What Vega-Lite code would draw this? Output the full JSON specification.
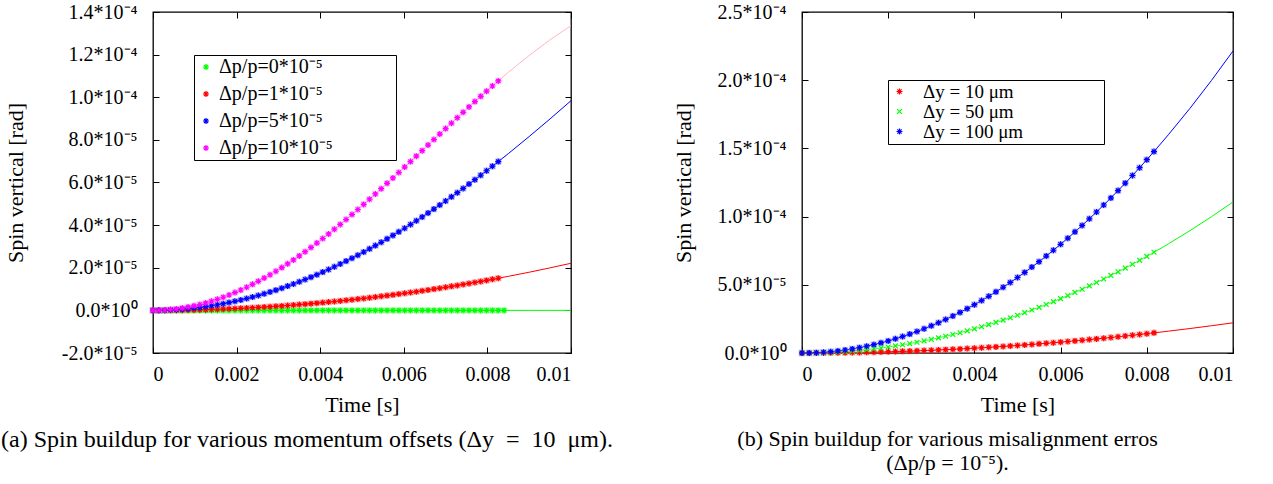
{
"$schema":"https://vega.github.io/schema/vega-lite/v6.json",
"background":"white",
"padding":{"left":0,"top":1,"right":5,"bottom":5},
"bounds":"flush",
"spacing":231,
"config":{
 "view":{"stroke":"black","strokeWidth":1.3},
 "axis":{"grid":false,"domain":false,"tickColor":"black","tickSize":-6,"tickWidth":1,"labelFont":"Liberation Serif","labelFontSize":20,"labelColor":"black","titleFont":"Liberation Serif","titleFontSize":22,"titleFontWeight":"normal","titleColor":"black"},
 "title":{"font":"Liberation Serif","fontSize":22,"fontWeight":"normal","color":"black"}
},
"datasets":{
"left":[
{"s":"0","t":0,"v":0,"p":1},{"s":"0","t":0.00014,"v":0,"p":1},{"s":"0","t":0.00028,"v":0,"p":1},{"s":"0","t":0.00042,"v":0,"p":1},{"s":"0","t":0.00056,"v":0,"p":1},{"s":"0","t":0.0007,"v":0,"p":1},{"s":"0","t":0.00084,"v":0,"p":1},{"s":"0","t":0.00098,"v":0,"p":1},{"s":"0","t":0.00112,"v":0,"p":1},{"s":"0","t":0.00126,"v":0,"p":1},{"s":"0","t":0.0014,"v":0,"p":1},{"s":"0","t":0.00154,"v":0,"p":1},{"s":"0","t":0.00168,"v":0,"p":1},{"s":"0","t":0.00182,"v":0,"p":1},{"s":"0","t":0.00196,"v":0,"p":1},{"s":"0","t":0.0021,"v":0,"p":1},{"s":"0","t":0.00224,"v":0,"p":1},{"s":"0","t":0.00238,"v":0,"p":1},{"s":"0","t":0.00252,"v":0,"p":1},{"s":"0","t":0.00266,"v":0,"p":1},{"s":"0","t":0.0028,"v":0,"p":1},{"s":"0","t":0.00294,"v":0,"p":1},{"s":"0","t":0.00308,"v":0,"p":1},{"s":"0","t":0.00322,"v":0,"p":1},{"s":"0","t":0.00336,"v":0,"p":1},{"s":"0","t":0.0035,"v":0,"p":1},{"s":"0","t":0.00364,"v":0,"p":1},{"s":"0","t":0.00378,"v":0,"p":1},{"s":"0","t":0.00392,"v":0,"p":1},{"s":"0","t":0.00406,"v":0,"p":1},{"s":"0","t":0.0042,"v":0,"p":1},{"s":"0","t":0.00434,"v":0,"p":1},{"s":"0","t":0.00448,"v":0,"p":1},{"s":"0","t":0.00462,"v":0,"p":1},{"s":"0","t":0.00476,"v":0,"p":1},{"s":"0","t":0.0049,"v":0,"p":1},{"s":"0","t":0.00504,"v":0,"p":1},{"s":"0","t":0.00518,"v":0,"p":1},{"s":"0","t":0.00532,"v":0,"p":1},{"s":"0","t":0.00546,"v":0,"p":1},{"s":"0","t":0.0056,"v":0,"p":1},{"s":"0","t":0.00574,"v":0,"p":1},{"s":"0","t":0.00588,"v":0,"p":1},{"s":"0","t":0.00602,"v":0,"p":1},{"s":"0","t":0.00616,"v":0,"p":1},{"s":"0","t":0.0063,"v":0,"p":1},{"s":"0","t":0.00644,"v":0,"p":1},{"s":"0","t":0.00658,"v":0,"p":1},{"s":"0","t":0.00672,"v":0,"p":1},{"s":"0","t":0.00686,"v":0,"p":1},{"s":"0","t":0.007,"v":0,"p":1},{"s":"0","t":0.00714,"v":0,"p":1},{"s":"0","t":0.00728,"v":0,"p":1},{"s":"0","t":0.00742,"v":0,"p":1},{"s":"0","t":0.00756,"v":0,"p":1},{"s":"0","t":0.0077,"v":0,"p":1},{"s":"0","t":0.00784,"v":0,"p":1},{"s":"0","t":0.00798,"v":0,"p":1},{"s":"0","t":0.00812,"v":0,"p":1},{"s":"0","t":0.00826,"v":0,"p":1},{"s":"0","t":0.0084,"v":0,"p":1},{"s":"0","t":0.009,"v":0,"p":0},{"s":"0","t":0.0095,"v":0,"p":0},{"s":"0","t":0.01,"v":0,"p":0},
{"s":"1","t":0,"v":0,"p":1},{"s":"1","t":0.00014,"v":0.0004e-5,"p":1},{"s":"1","t":0.00028,"v":0.002e-5,"p":1},{"s":"1","t":0.00042,"v":0.004e-5,"p":1},{"s":"1","t":0.00056,"v":0.007e-5,"p":1},{"s":"1","t":0.0007,"v":0.011e-5,"p":1},{"s":"1","t":0.00084,"v":0.016e-5,"p":1},{"s":"1","t":0.00098,"v":0.021e-5,"p":1},{"s":"1","t":0.00112,"v":0.028e-5,"p":1},{"s":"1","t":0.00126,"v":0.035e-5,"p":1},{"s":"1","t":0.0014,"v":0.043e-5,"p":1},{"s":"1","t":0.00154,"v":0.052e-5,"p":1},{"s":"1","t":0.00168,"v":0.062e-5,"p":1},{"s":"1","t":0.00182,"v":0.073e-5,"p":1},{"s":"1","t":0.00196,"v":0.085e-5,"p":1},{"s":"1","t":0.0021,"v":0.097e-5,"p":1},{"s":"1","t":0.00224,"v":0.111e-5,"p":1},{"s":"1","t":0.00238,"v":0.125e-5,"p":1},{"s":"1","t":0.00252,"v":0.14e-5,"p":1},{"s":"1","t":0.00266,"v":0.156e-5,"p":1},{"s":"1","t":0.0028,"v":0.173e-5,"p":1},{"s":"1","t":0.00294,"v":0.191e-5,"p":1},{"s":"1","t":0.00308,"v":0.21e-5,"p":1},{"s":"1","t":0.00322,"v":0.229e-5,"p":1},{"s":"1","t":0.00336,"v":0.25e-5,"p":1},{"s":"1","t":0.0035,"v":0.271e-5,"p":1},{"s":"1","t":0.00364,"v":0.293e-5,"p":1},{"s":"1","t":0.00378,"v":0.316e-5,"p":1},{"s":"1","t":0.00392,"v":0.34e-5,"p":1},{"s":"1","t":0.00406,"v":0.364e-5,"p":1},{"s":"1","t":0.0042,"v":0.39e-5,"p":1},{"s":"1","t":0.00434,"v":0.416e-5,"p":1},{"s":"1","t":0.00448,"v":0.444e-5,"p":1},{"s":"1","t":0.00462,"v":0.472e-5,"p":1},{"s":"1","t":0.00476,"v":0.501e-5,"p":1},{"s":"1","t":0.0049,"v":0.531e-5,"p":1},{"s":"1","t":0.00504,"v":0.561e-5,"p":1},{"s":"1","t":0.00518,"v":0.593e-5,"p":1},{"s":"1","t":0.00532,"v":0.625e-5,"p":1},{"s":"1","t":0.00546,"v":0.659e-5,"p":1},{"s":"1","t":0.0056,"v":0.693e-5,"p":1},{"s":"1","t":0.00574,"v":0.728e-5,"p":1},{"s":"1","t":0.00588,"v":0.764e-5,"p":1},{"s":"1","t":0.00602,"v":0.801e-5,"p":1},{"s":"1","t":0.00616,"v":0.839e-5,"p":1},{"s":"1","t":0.0063,"v":0.877e-5,"p":1},{"s":"1","t":0.00644,"v":0.917e-5,"p":1},{"s":"1","t":0.00658,"v":0.957e-5,"p":1},{"s":"1","t":0.00672,"v":0.998e-5,"p":1},{"s":"1","t":0.00686,"v":1.04e-5,"p":1},{"s":"1","t":0.007,"v":1.083e-5,"p":1},{"s":"1","t":0.00714,"v":1.127e-5,"p":1},{"s":"1","t":0.00728,"v":1.171e-5,"p":1},{"s":"1","t":0.00742,"v":1.217e-5,"p":1},{"s":"1","t":0.00756,"v":1.263e-5,"p":1},{"s":"1","t":0.0077,"v":1.31e-5,"p":1},{"s":"1","t":0.00784,"v":1.358e-5,"p":1},{"s":"1","t":0.00798,"v":1.407e-5,"p":1},{"s":"1","t":0.00812,"v":1.457e-5,"p":1},{"s":"1","t":0.00826,"v":1.508e-5,"p":1},{"s":"1","t":0.0085,"v":1.597e-5,"p":0},{"s":"1","t":0.009,"v":1.79e-5,"p":0},{"s":"1","t":0.0095,"v":1.995e-5,"p":0},{"s":"1","t":0.01,"v":2.21e-5,"p":0},
{"s":"5","t":0,"v":0,"p":1},{"s":"5","t":0.00014,"v":0.002e-5,"p":1},{"s":"5","t":0.00028,"v":0.009e-5,"p":1},{"s":"5","t":0.00042,"v":0.02e-5,"p":1},{"s":"5","t":0.00056,"v":0.035e-5,"p":1},{"s":"5","t":0.0007,"v":0.054e-5,"p":1},{"s":"5","t":0.00084,"v":0.078e-5,"p":1},{"s":"5","t":0.00098,"v":0.107e-5,"p":1},{"s":"5","t":0.00112,"v":0.139e-5,"p":1},{"s":"5","t":0.00126,"v":0.176e-5,"p":1},{"s":"5","t":0.0014,"v":0.217e-5,"p":1},{"s":"5","t":0.00154,"v":0.263e-5,"p":1},{"s":"5","t":0.00168,"v":0.313e-5,"p":1},{"s":"5","t":0.00182,"v":0.367e-5,"p":1},{"s":"5","t":0.00196,"v":0.425e-5,"p":1},{"s":"5","t":0.0021,"v":0.487e-5,"p":1},{"s":"5","t":0.00224,"v":0.554e-5,"p":1},{"s":"5","t":0.00238,"v":0.625e-5,"p":1},{"s":"5","t":0.00252,"v":0.7e-5,"p":1},{"s":"5","t":0.00266,"v":0.779e-5,"p":1},{"s":"5","t":0.0028,"v":0.863e-5,"p":1},{"s":"5","t":0.00294,"v":0.95e-5,"p":1},{"s":"5","t":0.00308,"v":1.042e-5,"p":1},{"s":"5","t":0.00322,"v":1.138e-5,"p":1},{"s":"5","t":0.00336,"v":1.237e-5,"p":1},{"s":"5","t":0.0035,"v":1.341e-5,"p":1},{"s":"5","t":0.00364,"v":1.449e-5,"p":1},{"s":"5","t":0.00378,"v":1.56e-5,"p":1},{"s":"5","t":0.00392,"v":1.676e-5,"p":1},{"s":"5","t":0.00406,"v":1.795e-5,"p":1},{"s":"5","t":0.0042,"v":1.919e-5,"p":1},{"s":"5","t":0.00434,"v":2.046e-5,"p":1},{"s":"5","t":0.00448,"v":2.177e-5,"p":1},{"s":"5","t":0.00462,"v":2.311e-5,"p":1},{"s":"5","t":0.00476,"v":2.45e-5,"p":1},{"s":"5","t":0.0049,"v":2.591e-5,"p":1},{"s":"5","t":0.00504,"v":2.737e-5,"p":1},{"s":"5","t":0.00518,"v":2.886e-5,"p":1},{"s":"5","t":0.00532,"v":3.039e-5,"p":1},{"s":"5","t":0.00546,"v":3.195e-5,"p":1},{"s":"5","t":0.0056,"v":3.355e-5,"p":1},{"s":"5","t":0.00574,"v":3.518e-5,"p":1},{"s":"5","t":0.00588,"v":3.684e-5,"p":1},{"s":"5","t":0.00602,"v":3.854e-5,"p":1},{"s":"5","t":0.00616,"v":4.027e-5,"p":1},{"s":"5","t":0.0063,"v":4.203e-5,"p":1},{"s":"5","t":0.00644,"v":4.383e-5,"p":1},{"s":"5","t":0.00658,"v":4.565e-5,"p":1},{"s":"5","t":0.00672,"v":4.751e-5,"p":1},{"s":"5","t":0.00686,"v":4.94e-5,"p":1},{"s":"5","t":0.007,"v":5.131e-5,"p":1},{"s":"5","t":0.00714,"v":5.326e-5,"p":1},{"s":"5","t":0.00728,"v":5.523e-5,"p":1},{"s":"5","t":0.00742,"v":5.723e-5,"p":1},{"s":"5","t":0.00756,"v":5.926e-5,"p":1},{"s":"5","t":0.0077,"v":6.132e-5,"p":1},{"s":"5","t":0.00784,"v":6.34e-5,"p":1},{"s":"5","t":0.00798,"v":6.551e-5,"p":1},{"s":"5","t":0.00812,"v":6.764e-5,"p":1},{"s":"5","t":0.00826,"v":6.98e-5,"p":1},{"s":"5","t":0.0085,"v":7.354e-5,"p":0},{"s":"5","t":0.009,"v":8.158e-5,"p":0},{"s":"5","t":0.0095,"v":8.986e-5,"p":0},{"s":"5","t":0.01,"v":9.838e-5,"p":0},
{"s":"10","t":0,"v":0,"p":1},{"s":"10","t":0.00014,"v":0.004e-5,"p":1},{"s":"10","t":0.00028,"v":0.017e-5,"p":1},{"s":"10","t":0.00042,"v":0.039e-5,"p":1},{"s":"10","t":0.00056,"v":0.069e-5,"p":1},{"s":"10","t":0.0007,"v":0.108e-5,"p":1},{"s":"10","t":0.00084,"v":0.156e-5,"p":1},{"s":"10","t":0.00098,"v":0.212e-5,"p":1},{"s":"10","t":0.00112,"v":0.276e-5,"p":1},{"s":"10","t":0.00126,"v":0.349e-5,"p":1},{"s":"10","t":0.0014,"v":0.43e-5,"p":1},{"s":"10","t":0.00154,"v":0.519e-5,"p":1},{"s":"10","t":0.00168,"v":0.617e-5,"p":1},{"s":"10","t":0.00182,"v":0.722e-5,"p":1},{"s":"10","t":0.00196,"v":0.835e-5,"p":1},{"s":"10","t":0.0021,"v":0.956e-5,"p":1},{"s":"10","t":0.00224,"v":1.085e-5,"p":1},{"s":"10","t":0.00238,"v":1.221e-5,"p":1},{"s":"10","t":0.00252,"v":1.364e-5,"p":1},{"s":"10","t":0.00266,"v":1.515e-5,"p":1},{"s":"10","t":0.0028,"v":1.672e-5,"p":1},{"s":"10","t":0.00294,"v":1.836e-5,"p":1},{"s":"10","t":0.00308,"v":2.007e-5,"p":1},{"s":"10","t":0.00322,"v":2.184e-5,"p":1},{"s":"10","t":0.00336,"v":2.368e-5,"p":1},{"s":"10","t":0.0035,"v":2.557e-5,"p":1},{"s":"10","t":0.00364,"v":2.753e-5,"p":1},{"s":"10","t":0.00378,"v":2.953e-5,"p":1},{"s":"10","t":0.00392,"v":3.16e-5,"p":1},{"s":"10","t":0.00406,"v":3.371e-5,"p":1},{"s":"10","t":0.0042,"v":3.587e-5,"p":1},{"s":"10","t":0.00434,"v":3.808e-5,"p":1},{"s":"10","t":0.00448,"v":4.033e-5,"p":1},{"s":"10","t":0.00462,"v":4.262e-5,"p":1},{"s":"10","t":0.00476,"v":4.496e-5,"p":1},{"s":"10","t":0.0049,"v":4.732e-5,"p":1},{"s":"10","t":0.00504,"v":4.973e-5,"p":1},{"s":"10","t":0.00518,"v":5.216e-5,"p":1},{"s":"10","t":0.00532,"v":5.462e-5,"p":1},{"s":"10","t":0.00546,"v":5.71e-5,"p":1},{"s":"10","t":0.0056,"v":5.961e-5,"p":1},{"s":"10","t":0.00574,"v":6.213e-5,"p":1},{"s":"10","t":0.00588,"v":6.468e-5,"p":1},{"s":"10","t":0.00602,"v":6.723e-5,"p":1},{"s":"10","t":0.00616,"v":6.98e-5,"p":1},{"s":"10","t":0.0063,"v":7.237e-5,"p":1},{"s":"10","t":0.00644,"v":7.495e-5,"p":1},{"s":"10","t":0.00658,"v":7.755e-5,"p":1},{"s":"10","t":0.00672,"v":8.013e-5,"p":1},{"s":"10","t":0.00686,"v":8.271e-5,"p":1},{"s":"10","t":0.007,"v":8.528e-5,"p":1},{"s":"10","t":0.00714,"v":8.784e-5,"p":1},{"s":"10","t":0.00728,"v":9.04e-5,"p":1},{"s":"10","t":0.00742,"v":9.293e-5,"p":1},{"s":"10","t":0.00756,"v":9.545e-5,"p":1},{"s":"10","t":0.0077,"v":9.795e-5,"p":1},{"s":"10","t":0.00784,"v":10.042e-5,"p":1},{"s":"10","t":0.00798,"v":10.286e-5,"p":1},{"s":"10","t":0.00812,"v":10.528e-5,"p":1},{"s":"10","t":0.00826,"v":10.767e-5,"p":1},{"s":"10","t":0.0085,"v":11.17e-5,"p":0},{"s":"10","t":0.009,"v":11.96e-5,"p":0},{"s":"10","t":0.0095,"v":12.7e-5,"p":0},{"s":"10","t":0.01,"v":13.36e-5,"p":0}
],
"right":[
{"s":"10 μm","t":0,"v":0,"p":1},{"s":"10 μm","t":0.000167,"v":0.001e-5,"p":1},{"s":"10 μm","t":0.000333,"v":0.002e-5,"p":1},{"s":"10 μm","t":0.0005,"v":0.006e-5,"p":1},{"s":"10 μm","t":0.000667,"v":0.01e-5,"p":1},{"s":"10 μm","t":0.000833,"v":0.015e-5,"p":1},{"s":"10 μm","t":0.001,"v":0.022e-5,"p":1},{"s":"10 μm","t":0.001167,"v":0.03e-5,"p":1},{"s":"10 μm","t":0.001333,"v":0.039e-5,"p":1},{"s":"10 μm","t":0.0015,"v":0.05e-5,"p":1},{"s":"10 μm","t":0.001667,"v":0.062e-5,"p":1},{"s":"10 μm","t":0.001833,"v":0.074e-5,"p":1},{"s":"10 μm","t":0.002,"v":0.089e-5,"p":1},{"s":"10 μm","t":0.002167,"v":0.104e-5,"p":1},{"s":"10 μm","t":0.002333,"v":0.121e-5,"p":1},{"s":"10 μm","t":0.0025,"v":0.138e-5,"p":1},{"s":"10 μm","t":0.002667,"v":0.157e-5,"p":1},{"s":"10 μm","t":0.002833,"v":0.178e-5,"p":1},{"s":"10 μm","t":0.003,"v":0.199e-5,"p":1},{"s":"10 μm","t":0.003167,"v":0.222e-5,"p":1},{"s":"10 μm","t":0.003333,"v":0.246e-5,"p":1},{"s":"10 μm","t":0.0035,"v":0.271e-5,"p":1},{"s":"10 μm","t":0.003667,"v":0.298e-5,"p":1},{"s":"10 μm","t":0.003833,"v":0.325e-5,"p":1},{"s":"10 μm","t":0.004,"v":0.354e-5,"p":1},{"s":"10 μm","t":0.004167,"v":0.384e-5,"p":1},{"s":"10 μm","t":0.004333,"v":0.416e-5,"p":1},{"s":"10 μm","t":0.0045,"v":0.448e-5,"p":1},{"s":"10 μm","t":0.004667,"v":0.482e-5,"p":1},{"s":"10 μm","t":0.004833,"v":0.517e-5,"p":1},{"s":"10 μm","t":0.005,"v":0.554e-5,"p":1},{"s":"10 μm","t":0.005167,"v":0.591e-5,"p":1},{"s":"10 μm","t":0.005333,"v":0.63e-5,"p":1},{"s":"10 μm","t":0.0055,"v":0.67e-5,"p":1},{"s":"10 μm","t":0.005667,"v":0.711e-5,"p":1},{"s":"10 μm","t":0.005833,"v":0.753e-5,"p":1},{"s":"10 μm","t":0.006,"v":0.797e-5,"p":1},{"s":"10 μm","t":0.006167,"v":0.842e-5,"p":1},{"s":"10 μm","t":0.006333,"v":0.888e-5,"p":1},{"s":"10 μm","t":0.0065,"v":0.935e-5,"p":1},{"s":"10 μm","t":0.006667,"v":0.984e-5,"p":1},{"s":"10 μm","t":0.006833,"v":1.034e-5,"p":1},{"s":"10 μm","t":0.007,"v":1.085e-5,"p":1},{"s":"10 μm","t":0.007167,"v":1.137e-5,"p":1},{"s":"10 μm","t":0.007333,"v":1.191e-5,"p":1},{"s":"10 μm","t":0.0075,"v":1.245e-5,"p":1},{"s":"10 μm","t":0.007667,"v":1.301e-5,"p":1},{"s":"10 μm","t":0.007833,"v":1.359e-5,"p":1},{"s":"10 μm","t":0.008,"v":1.417e-5,"p":1},{"s":"10 μm","t":0.008167,"v":1.477e-5,"p":1},{"s":"10 μm","t":0.0085,"v":1.6e-5,"p":0},{"s":"10 μm","t":0.009,"v":1.793e-5,"p":0},{"s":"10 μm","t":0.0095,"v":1.998e-5,"p":0},{"s":"10 μm","t":0.01,"v":2.214e-5,"p":0},
{"s":"50 μm","t":0,"v":0,"p":1},{"s":"50 μm","t":0.000167,"v":0.003e-5,"p":1},{"s":"50 μm","t":0.000333,"v":0.012e-5,"p":1},{"s":"50 μm","t":0.0005,"v":0.028e-5,"p":1},{"s":"50 μm","t":0.000667,"v":0.049e-5,"p":1},{"s":"50 μm","t":0.000833,"v":0.077e-5,"p":1},{"s":"50 μm","t":0.001,"v":0.111e-5,"p":1},{"s":"50 μm","t":0.001167,"v":0.151e-5,"p":1},{"s":"50 μm","t":0.001333,"v":0.197e-5,"p":1},{"s":"50 μm","t":0.0015,"v":0.249e-5,"p":1},{"s":"50 μm","t":0.001667,"v":0.308e-5,"p":1},{"s":"50 μm","t":0.001833,"v":0.372e-5,"p":1},{"s":"50 μm","t":0.002,"v":0.443e-5,"p":1},{"s":"50 μm","t":0.002167,"v":0.52e-5,"p":1},{"s":"50 μm","t":0.002333,"v":0.603e-5,"p":1},{"s":"50 μm","t":0.0025,"v":0.692e-5,"p":1},{"s":"50 μm","t":0.002667,"v":0.787e-5,"p":1},{"s":"50 μm","t":0.002833,"v":0.889e-5,"p":1},{"s":"50 μm","t":0.003,"v":0.996e-5,"p":1},{"s":"50 μm","t":0.003167,"v":1.11e-5,"p":1},{"s":"50 μm","t":0.003333,"v":1.23e-5,"p":1},{"s":"50 μm","t":0.0035,"v":1.356e-5,"p":1},{"s":"50 μm","t":0.003667,"v":1.488e-5,"p":1},{"s":"50 μm","t":0.003833,"v":1.627e-5,"p":1},{"s":"50 μm","t":0.004,"v":1.771e-5,"p":1},{"s":"50 μm","t":0.004167,"v":1.922e-5,"p":1},{"s":"50 μm","t":0.004333,"v":2.079e-5,"p":1},{"s":"50 μm","t":0.0045,"v":2.242e-5,"p":1},{"s":"50 μm","t":0.004667,"v":2.411e-5,"p":1},{"s":"50 μm","t":0.004833,"v":2.586e-5,"p":1},{"s":"50 μm","t":0.005,"v":2.768e-5,"p":1},{"s":"50 μm","t":0.005167,"v":2.955e-5,"p":1},{"s":"50 μm","t":0.005333,"v":3.149e-5,"p":1},{"s":"50 μm","t":0.0055,"v":3.349e-5,"p":1},{"s":"50 μm","t":0.005667,"v":3.555e-5,"p":1},{"s":"50 μm","t":0.005833,"v":3.767e-5,"p":1},{"s":"50 μm","t":0.006,"v":3.985e-5,"p":1},{"s":"50 μm","t":0.006167,"v":4.21e-5,"p":1},{"s":"50 μm","t":0.006333,"v":4.44e-5,"p":1},{"s":"50 μm","t":0.0065,"v":4.677e-5,"p":1},{"s":"50 μm","t":0.006667,"v":4.92e-5,"p":1},{"s":"50 μm","t":0.006833,"v":5.169e-5,"p":1},{"s":"50 μm","t":0.007,"v":5.424e-5,"p":1},{"s":"50 μm","t":0.007167,"v":5.686e-5,"p":1},{"s":"50 μm","t":0.007333,"v":5.953e-5,"p":1},{"s":"50 μm","t":0.0075,"v":6.227e-5,"p":1},{"s":"50 μm","t":0.007667,"v":6.507e-5,"p":1},{"s":"50 μm","t":0.007833,"v":6.793e-5,"p":1},{"s":"50 μm","t":0.008,"v":7.085e-5,"p":1},{"s":"50 μm","t":0.008167,"v":7.383e-5,"p":1},{"s":"50 μm","t":0.0085,"v":8.0e-5,"p":0},{"s":"50 μm","t":0.009,"v":8.965e-5,"p":0},{"s":"50 μm","t":0.0095,"v":9.99e-5,"p":0},{"s":"50 μm","t":0.01,"v":11.07e-5,"p":0},
{"s":"100 μm","t":0,"v":0,"p":1},{"s":"100 μm","t":0.000167,"v":0.006e-5,"p":1},{"s":"100 μm","t":0.000333,"v":0.025e-5,"p":1},{"s":"100 μm","t":0.0005,"v":0.055e-5,"p":1},{"s":"100 μm","t":0.000667,"v":0.098e-5,"p":1},{"s":"100 μm","t":0.000833,"v":0.154e-5,"p":1},{"s":"100 μm","t":0.001,"v":0.221e-5,"p":1},{"s":"100 μm","t":0.001167,"v":0.301e-5,"p":1},{"s":"100 μm","t":0.001333,"v":0.394e-5,"p":1},{"s":"100 μm","t":0.0015,"v":0.498e-5,"p":1},{"s":"100 μm","t":0.001667,"v":0.615e-5,"p":1},{"s":"100 μm","t":0.001833,"v":0.744e-5,"p":1},{"s":"100 μm","t":0.002,"v":0.886e-5,"p":1},{"s":"100 μm","t":0.002167,"v":1.039e-5,"p":1},{"s":"100 μm","t":0.002333,"v":1.205e-5,"p":1},{"s":"100 μm","t":0.0025,"v":1.384e-5,"p":1},{"s":"100 μm","t":0.002667,"v":1.574e-5,"p":1},{"s":"100 μm","t":0.002833,"v":1.777e-5,"p":1},{"s":"100 μm","t":0.003,"v":1.993e-5,"p":1},{"s":"100 μm","t":0.003167,"v":2.22e-5,"p":1},{"s":"100 μm","t":0.003333,"v":2.46e-5,"p":1},{"s":"100 μm","t":0.0035,"v":2.712e-5,"p":1},{"s":"100 μm","t":0.003667,"v":2.977e-5,"p":1},{"s":"100 μm","t":0.003833,"v":3.253e-5,"p":1},{"s":"100 μm","t":0.004,"v":3.542e-5,"p":1},{"s":"100 μm","t":0.004167,"v":3.844e-5,"p":1},{"s":"100 μm","t":0.004333,"v":4.157e-5,"p":1},{"s":"100 μm","t":0.0045,"v":4.483e-5,"p":1},{"s":"100 μm","t":0.004667,"v":4.822e-5,"p":1},{"s":"100 μm","t":0.004833,"v":5.172e-5,"p":1},{"s":"100 μm","t":0.005,"v":5.535e-5,"p":1},{"s":"100 μm","t":0.005167,"v":5.91e-5,"p":1},{"s":"100 μm","t":0.005333,"v":6.298e-5,"p":1},{"s":"100 μm","t":0.0055,"v":6.697e-5,"p":1},{"s":"100 μm","t":0.005667,"v":7.109e-5,"p":1},{"s":"100 μm","t":0.005833,"v":7.534e-5,"p":1},{"s":"100 μm","t":0.006,"v":7.97e-5,"p":1},{"s":"100 μm","t":0.006167,"v":8.419e-5,"p":1},{"s":"100 μm","t":0.006333,"v":8.881e-5,"p":1},{"s":"100 μm","t":0.0065,"v":9.354e-5,"p":1},{"s":"100 μm","t":0.006667,"v":9.84e-5,"p":1},{"s":"100 μm","t":0.006833,"v":10.338e-5,"p":1},{"s":"100 μm","t":0.007,"v":10.849e-5,"p":1},{"s":"100 μm","t":0.007167,"v":11.371e-5,"p":1},{"s":"100 μm","t":0.007333,"v":11.906e-5,"p":1},{"s":"100 μm","t":0.0075,"v":12.454e-5,"p":1},{"s":"100 μm","t":0.007667,"v":13.013e-5,"p":1},{"s":"100 μm","t":0.007833,"v":13.585e-5,"p":1},{"s":"100 μm","t":0.008,"v":14.17e-5,"p":1},{"s":"100 μm","t":0.008167,"v":14.766e-5,"p":1},{"s":"100 μm","t":0.0085,"v":16.0e-5,"p":0},{"s":"100 μm","t":0.009,"v":17.93e-5,"p":0},{"s":"100 μm","t":0.0095,"v":19.98e-5,"p":0},{"s":"100 μm","t":0.01,"v":22.14e-5,"p":0}
]
},
"hconcat":[
{
 "width":418,"height":341,
 "data":{"name":"left"},
 "title":{"text":"(a) Spin buildup for various momentum offsets (Δy\u2002=\u200210\u2002μm).","orient":"bottom","anchor":"start","frame":"group","dx":-152,"offset":13,"fontSize":24},
 "layer":[
  {"mark":{"type":"line","strokeWidth":1},
   "encoding":{
    "x":{"field":"t","type":"quantitative","scale":{"domain":[0,0.01],"nice":false,"zero":false},"axis":{"orient":"bottom","values":[0,0.002,0.004,0.006,0.008,0.01],"labelExpr":"datum.value < 1e-9 ? '0' : datum.value > 0.0099 ? '0.01' : format(datum.value, '.3f')","title":"Time [s]","titleFontSize":22,"labelPadding":17,"titlePadding":10}},
    "y":{"field":"v","type":"quantitative","scale":{"domain":[-0.00002,0.00014],"nice":false,"zero":false},"axis":{"orient":"left","values":[-0.00002,0,0.00002,0.00004,0.00006,0.00008,0.0001,0.00012,0.00014],"labelExpr":"abs(datum.value) < 1e-12 ? '0.0*10⁰' : abs(datum.value) > 9.99e-5 ? format(datum.value*1e4, '.1f') + '*10⁻⁴' : replace(format(datum.value*1e5, '.1f'), '−', '-') + '*10⁻⁵'","title":"Spin vertical [rad]","titleFontSize":22,"labelPadding":22,"titlePadding":34}},
    "stroke":{"field":"s","type":"nominal","scale":{"domain":["0","1","5","10","10 μm","50 μm","100 μm"],"range":["#00ff00","#ff0000","#0000ff","#ffb6c1","#ff0000","#00ff00","#0000ff"]},"legend":null}
   }},
  {"transform":[{"filter":"datum.p == 1"}],
   "mark":{"type":"point","shape":"square","filled":true,"size":42,"opacity":0.35},
   "encoding":{
    "x":{"field":"t","type":"quantitative","axis":{"orient":"top","values":[0,0.002,0.004,0.006,0.008,0.01],"labels":false,"title":null}},
    "y":{"field":"v","type":"quantitative","axis":{"orient":"right","values":[-0.00002,0,0.00002,0.00004,0.00006,0.00008,0.0001,0.00012,0.00014],"labels":false,"title":null}},
    "fill":{"field":"s","type":"nominal","scale":{"domain":["0","1","5","10","10 μm","50 μm","100 μm"],"range":["#66ff66","#ff6666","#6666ff","#ff88ff","#ff6666","#ffffff","#6666ff"]},"legend":null}
   }},
  {"transform":[{"filter":"datum.p == 1"}],
   "mark":{"type":"point","shape":"M-1,0L1,0M0,-1L0,1M-0.7,-0.7L0.7,0.7M-0.7,0.7L0.7,-0.7","filled":false,"size":36,"strokeWidth":1.2,"opacity":1},
   "encoding":{
    "x":{"field":"t","type":"quantitative","axis":null},
    "y":{"field":"v","type":"quantitative","axis":null},
    "color":{"field":"s","type":"nominal","scale":{"domain":["0","1","5","10"],"range":["#00ff00","#ff0000","#0000ff","#ff00ff"]},
     "legend":{"orient":"none","legendX":41,"legendY":43,"title":"\u2003","titleOrient":"right","titleFontSize":1,"titlePadding":61,"labelExpr":"'Δp/p=' + datum.label + '*10⁻⁵'","labelFont":"Liberation Serif","labelFontSize":20,"labelColor":"black","labelOffset":3,"symbolType":"M-1,0L1,0M0,-1L0,1M-0.7,-0.7L0.7,0.7M-0.7,0.7L0.7,-0.7","symbolSize":36,"symbolStrokeWidth":1.2,"symbolFillColor":"transparent","strokeColor":"black","fillColor":"white","padding":2,"rowPadding":7}}
   }}
 ],
 "resolve":{"axis":{"x":"independent","y":"independent"}}
},
{
 "width":431,"height":341,
 "data":{"name":"right"},
 "title":{"text":["(b) Spin buildup for various misalignment erros","(Δp/p = 10⁻⁵)."],"orient":"bottom","anchor":"middle","frame":"group","dx":-70,"offset":14,"lineHeight":24},
 "layer":[
  {"mark":{"type":"line","strokeWidth":1},
   "encoding":{
    "x":{"field":"t","type":"quantitative","scale":{"domain":[0,0.01],"nice":false,"zero":false},"axis":{"orient":"bottom","values":[0,0.002,0.004,0.006,0.008,0.01],"labelExpr":"datum.value < 1e-9 ? '0' : datum.value > 0.0099 ? '0.01' : format(datum.value, '.3f')","title":"Time [s]","titleFontSize":22,"labelPadding":17,"titlePadding":10}},
    "y":{"field":"v","type":"quantitative","scale":{"domain":[0,0.00025],"nice":false,"zero":false},"axis":{"orient":"left","values":[0,0.00005,0.0001,0.00015,0.0002,0.00025],"labelExpr":"abs(datum.value) < 1e-12 ? '0.0*10⁰' : abs(datum.value) > 9.99e-5 ? format(datum.value*1e4, '.1f') + '*10⁻⁴' : format(datum.value*1e5, '.1f') + '*10⁻⁵'","title":"Spin vertical [rad]","titleFontSize":22,"labelPadding":22,"titlePadding":22}},
    "stroke":{"field":"s","type":"nominal","scale":{"domain":["0","1","5","10","10 μm","50 μm","100 μm"],"range":["#00ff00","#ff0000","#0000ff","#ffb6c1","#ff0000","#00ff00","#0000ff"]},"legend":null}
   }},
  {"transform":[{"filter":"datum.p == 1"}],
   "mark":{"type":"point","shape":"square","filled":true,"size":42,"opacity":0.35},
   "encoding":{
    "x":{"field":"t","type":"quantitative","axis":{"orient":"top","values":[0,0.002,0.004,0.006,0.008,0.01],"labels":false,"title":null}},
    "y":{"field":"v","type":"quantitative","axis":{"orient":"right","values":[0,0.00005,0.0001,0.00015,0.0002,0.00025],"labels":false,"title":null}},
    "fill":{"field":"s","type":"nominal","scale":{"domain":["0","1","5","10","10 μm","50 μm","100 μm"],"range":["#66ff66","#ff6666","#6666ff","#ff88ff","#ff6666","#ffffff","#6666ff"]},"legend":null}
   }},
  {"transform":[{"filter":"datum.p == 1"}],
   "mark":{"type":"point","filled":false,"size":36,"strokeWidth":1.2,"opacity":1},
   "encoding":{
    "x":{"field":"t","type":"quantitative","axis":null},
    "y":{"field":"v","type":"quantitative","axis":null},
    "stroke":{"field":"s","type":"nominal","scale":{"domain":["0","1","5","10","10 μm","50 μm","100 μm"],"range":["#00ff00","#ff0000","#0000ff","#ffb6c1","#ff0000","#00ff00","#0000ff"]},"legend":null},
    "shape":{"field":"s","type":"nominal","scale":{"domain":["10 μm","50 μm","100 μm"],"range":["M-1,0L1,0M0,-1L0,1M-0.7,-0.7L0.7,0.7M-0.7,0.7L0.7,-0.7","M-0.8,-0.8L0.8,0.8M-0.8,0.8L0.8,-0.8","M-1,0L1,0M0,-1L0,1M-0.7,-0.7L0.7,0.7M-0.7,0.7L0.7,-0.7"]},
     "legend":{"orient":"none","legendX":735,"legendY":68,"title":"\u2800","titleOrient":"right","titleFontSize":1,"titlePadding":78,"labelExpr":"'Δy = ' + datum.label","labelFont":"Liberation Serif","labelFontSize":19,"labelColor":"black","labelOffset":14,"symbolSize":36,"symbolStrokeWidth":1.2,"symbolFillColor":"transparent","symbolStrokeColor":{"expr":"datum.value == '10 μm' ? '#ff0000' : datum.value == '50 μm' ? '#00ff00' : '#0000ff'"},"strokeColor":"black","fillColor":"white","padding":2,"rowPadding":0}}
   }}
 ],
 "resolve":{"axis":{"x":"independent","y":"independent"}}
}
]
}
